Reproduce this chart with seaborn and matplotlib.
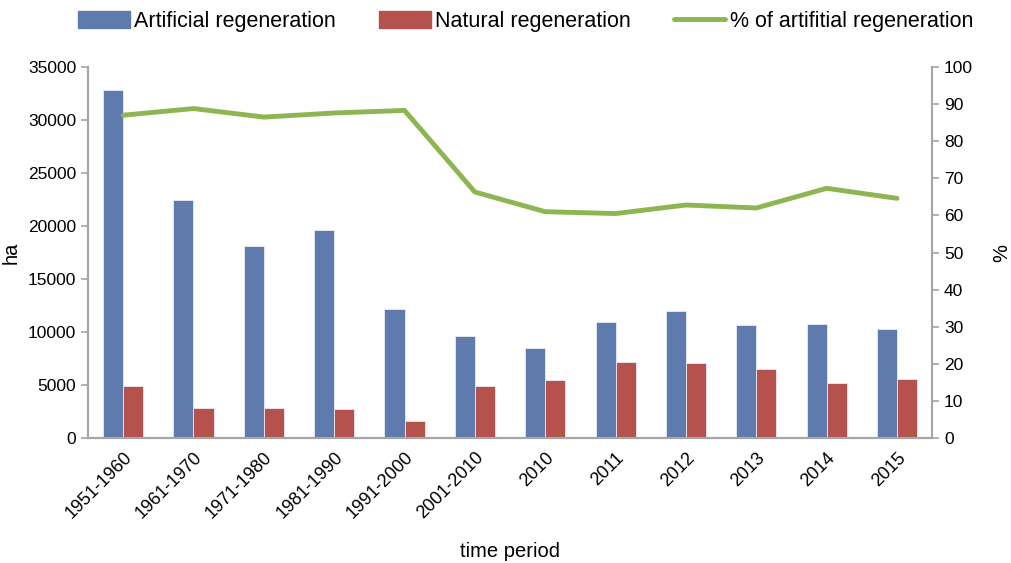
import numpy as np
import pandas as pd
import matplotlib
matplotlib.use("Agg")
import matplotlib.pyplot as plt
import seaborn as sns
from matplotlib.lines import Line2D
from matplotlib.patches import Patch

# values
periods = ["1951-1960", "1961-1970", "1971-1980", "1981-1990", "1991-2000",
           "2001-2010", "2010", "2011", "2012", "2013", "2014", "2015"]
artificial = [32800, 22450, 18100, 19600, 12170, 9650, 8500, 10950, 11980, 10650, 10750, 10280]
natural = [4950, 2830, 2830, 2750, 1600, 4900, 5470, 7150, 7080, 6520, 5200, 5580]
pct_artificial = [87.0, 88.8, 86.5, 87.6, 88.3, 66.3, 61.0, 60.5, 62.8, 62.0, 67.3, 64.6]

blue = "#5F7AAD"
red = "#B6524E"
green = "#8DB552"
grey = "#A6A6A6"

sns.set_style("white")
plt.rcParams["font.family"] = ["Liberation Sans", "DejaVu Sans"]
plt.rcParams["text.color"] = "black"
plt.rcParams["axes.labelcolor"] = "black"
plt.rcParams["xtick.labelcolor"] = "black"
plt.rcParams["ytick.labelcolor"] = "black"

df = pd.DataFrame({
    "period": periods * 2,
    "ha": artificial + natural,
    "type": ["Artificial regeneration"] * len(periods) + ["Natural regeneration"] * len(periods),
})

fig = plt.figure(figsize=(10.11, 5.63), dpi=100)
ax = fig.add_axes([0.087, 0.222, 0.835, 0.659])

sns.barplot(data=df, x="period", y="ha", hue="type", order=periods,
            palette=[blue, red], saturation=1, width=0.57, ax=ax, legend=False,
            edgecolor="#E8ECF4", linewidth=0.6)

ax2 = ax.twinx()
sns.lineplot(x=np.arange(len(periods)), y=pct_artificial, color=green,
             linewidth=3.5, ax=ax2)

ax.set_xlim(-0.5, len(periods) - 0.5)
ax.set_ylim(0, 35000)
ax.set_yticks(np.arange(0, 35001, 5000))
ax2.set_ylim(0, 100)
ax2.set_yticks(np.arange(0, 101, 10))

ax.set_xticks(np.arange(len(periods)))
ax.set_xticklabels(periods, rotation=45, ha="right", rotation_mode="anchor", fontsize=13)
ax.set_xticks(np.arange(len(periods) + 1) - 0.5, minor=True)
ax.tick_params(axis="x", which="major", length=0, pad=8)
ax.tick_params(axis="x", which="minor", length=5, color=grey, width=1.2, direction="out")
ax.tick_params(axis="y", length=5, color=grey, width=1.2, direction="out", labelsize=12.5)
ax2.tick_params(axis="y", length=5, color=grey, width=1.2, direction="out", labelsize=12.5)

for a in (ax, ax2):
    a.spines["top"].set_visible(False)
    for s in ("left", "right", "bottom"):
        a.spines[s].set_color(grey)
        a.spines[s].set_linewidth(1.5)
ax.spines["right"].set_visible(False)

ax.set_xlabel("time period", fontsize=14.5, labelpad=14)
ax.set_ylabel("ha", fontsize=14.5, labelpad=5)
ax2.set_ylabel("%", fontsize=14.5, labelpad=14)

handles = [Patch(color=blue, label="Artificial regeneration"),
           Patch(color=red, label="Natural regeneration"),
           Line2D([], [], color=green, linewidth=3.5, label="% of artifitial regeneration")]
fig.legend(handles=handles, loc="upper center", bbox_to_anchor=(0.52, 1.015), ncol=3,
           frameon=False, fontsize=15.5, handlelength=2.4, handleheight=0.8,
           columnspacing=2.0, handletextpad=0.2)

fig.savefig("out.png", dpi=100)
